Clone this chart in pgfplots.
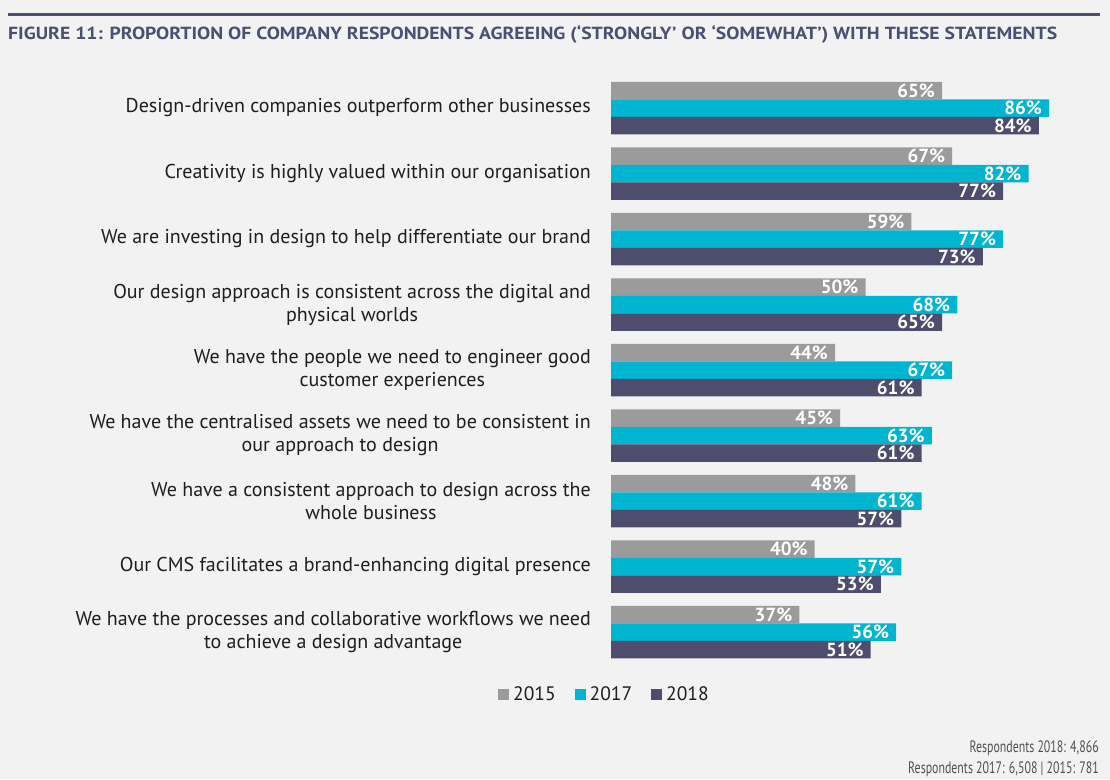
\documentclass[border=0pt]{standalone}
\usepackage{pgfplots}
\pgfplotsset{compat=1.18}
\usepackage{fontspec}
\setmainfont{PT Sans}
\newfontfamily\condfont[FakeStretch=0.72]{PT Sans}
\definecolor{bg}{HTML}{F2F2F3}
\definecolor{c15}{HTML}{9B9B9B}
\definecolor{c17}{HTML}{00B5D0}
\definecolor{c18}{HTML}{4E4D6E}
\definecolor{titlec}{HTML}{4A5070}
\definecolor{txt}{HTML}{1E1E1E}
\definecolor{foot}{HTML}{505050}
\pgfplotsset{sqlegend/.style={legend image code/.code={\fill[##1,draw=none] (0pt,-5.5pt) rectangle (11pt,5.5pt); \path (14pt,0pt);}}}
\begin{document}
\begin{tikzpicture}[x=1pt,y=1pt]
\fill[bg] (0,0) rectangle (1110,779);
\fill[titlec] (8,762.5) rectangle (1100,765.5);
\node[anchor=base west, text=titlec, inner sep=0pt] at (8,739) {\resizebox{1049pt}{14pt}{\bfseries FIGURE 11: PROPORTION OF COMPANY RESPONDENTS AGREEING (‘STRONGLY’ OR ‘SOMEWHAT’) WITH THESE STATEMENTS}};
\begin{axis}[
  at={(611pt,114.25pt)}, anchor=south west, scale only axis,
  width=438pt, height=589.5pt,
  xmin=0, xmax=86, ymin=-0.5, ymax=8.5, y dir=reverse,
  xbar=0pt, bar width=17.5pt,
  axis line style={draw=none}, xtick=\empty,
  ytick={0,...,8}, major tick length=0pt, tick style={draw=none},
  yticklabels={
    {Design-driven companies outperform other businesses},
    {Creativity is highly valued within our organisation},
    {We are investing in design to help differentiate our brand},
    {Our design approach is consistent across the digital and\\physical worlds},
    {We have the people we need to engineer good\\customer experiences},
    {We have the centralised assets we need to be consistent in\\our approach to design},
    {We have a consistent approach to design across the\\whole business},
    {Our CMS facilitates a brand-enhancing digital presence},
    {We have the processes and collaborative workflows we need\\to achieve a design advantage}},
  yticklabel style={align=center, font=\fontsize{20}{23}\selectfont, text=txt, inner sep=0pt, xshift=-20pt},
  /pgf/number format/assume math mode=true,
  point meta=x,
  nodes near coords={\pgfmathprintnumber{\pgfplotspointmeta}\%},
  every node near coord/.append style={anchor=east, font=\bfseries\fontsize{19}{19}\selectfont, text=white, inner sep=0pt, xshift=-7pt},
  clip=false,
  legend columns=-1,
  legend style={at={(-0.016,-0.0496)}, anchor=center, draw=none, fill=none,
    font=\fontsize{19.5}{19.5}\selectfont, text=txt,
    nodes={inner xsep=1pt},
    /tikz/every even column/.append style={column sep=18pt}},
]
\addplot[fill=c15, draw=none, sqlegend, bar shift=17.5pt] coordinates {(65,0) (67,1) (59,2) (50,3) (44,4) (45,5) (48,6) (40,7) (37,8)};
\addplot[fill=c17, draw=none, sqlegend, bar shift=0pt] coordinates {(86,0) (82,1) (77,2) (68,3) (67,4) (63,5) (61,6) (57,7) (56,8)};
\addplot[fill=c18, draw=none, sqlegend, bar shift=-17.5pt] coordinates {(84,0) (77,1) (73,2) (65,3) (61,4) (61,5) (57,6) (53,7) (51,8)};
\legend{2015,2017,2018}
\end{axis}
\node[anchor=base east, text=foot, font=\condfont\fontsize{16.5}{16.5}\selectfont, inner sep=0pt] at (1099,27) {Respondents 2018: 4,866};
\node[anchor=base east, text=foot, font=\condfont\fontsize{16.5}{16.5}\selectfont, inner sep=0pt] at (1099,6) {Respondents 2017: 6,508 | 2015: 781};
\pgfresetboundingbox
\path[use as bounding box] (0,0) rectangle (1110,779);
\end{tikzpicture}
\end{document}
